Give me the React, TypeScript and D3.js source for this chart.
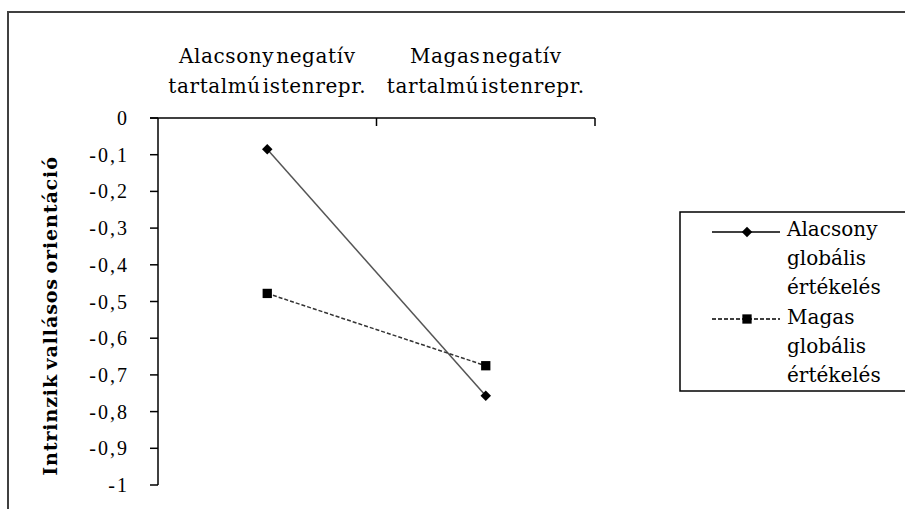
import React from "react";
import * as d3 from "d3";

const categories = ["Alacsony negatív|tartalmú istenrepr.", "Magas negatív|tartalmú istenrepr."];
const seriesNames = ["Alacsony|globális|értékelés", "Magas|globális|értékelés"];
const lowGlobal = [-0.085, -0.757];
const highGlobal = [-0.478, -0.675];
const yTicks = [0, -0.1, -0.2, -0.3, -0.4, -0.5, -0.6, -0.7, -0.8, -0.9, -1];
const yTitle = "Intrinzik vallásos orientáció";

const W = 905;
const H = 509;
const SERIF = "'DejaVu Serif', serif";
const TIMES = "'Liberation Serif', serif";

const huLocale = d3.formatLocale({ decimal: ",", thousands: " ", grouping: [3], currency: ["", " Ft"], minus: "-" });
const fmt = (v: number) => (v === 0 ? "0" : v === -1 ? "-1" : huLocale.format(".1f")(v));

const App = () => {
  const x = d3.scaleBand().domain(categories).range([158, 595]);
  const y = d3.scaleLinear().domain([-1, 0]).range([485, 118]);
  const cx = (c: string) => (x(c) ?? 0) + x.bandwidth() / 2;

  const line = d3
    .line<number>()
    .x((_, i) => cx(categories[i]))
    .y(d => y(d));

  const series = [
    { name: seriesNames[0], values: lowGlobal, dash: "none", stroke: "#555", marker: "diamond" },
    { name: seriesNames[1], values: highGlobal, dash: "4,2", stroke: "#333", marker: "square" },
  ];

  const diamond = d3.symbol().type(d3.symbolDiamond2).size(70)();
  const square = d3.symbol().type(d3.symbolSquare2).size(110)();

  const marker = (kind: string, px: number, py: number, key: string) => (
    <path key={key} d={kind === "diamond" ? diamond! : square!} transform={`translate(${px},${py})`} fill="#000" />
  );

  return (
    <svg width={W} height={H} style={{ position: "absolute", left: 0, top: 0, background: "#fff" }}>
      {/* chart frame */}
      <rect x={8} y={12} width={W + 20} height={H + 20} fill="#fff" stroke="#404040" strokeWidth={2} />

      {/* category labels */}
      {categories.map(c =>
        c.split("|").map((t, i) => (
          <text key={c + i} x={cx(c)} y={63 + i * 30} textAnchor="middle" fontFamily={SERIF} fontSize={20}
            letterSpacing={0.6} wordSpacing={-5} fill="#000">
            {t}
          </text>
        ))
      )}

      {/* y axis */}
      <line x1={158} x2={158} y1={y(0)} y2={y(-1)} stroke="#000" strokeWidth={1.5} />
      {yTicks.map(t => (
        <g key={t}>
          <line x1={150} x2={158} y1={y(t)} y2={y(t)} stroke="#000" strokeWidth={1.5} />
          <text x={129} y={y(t)} dy="0.35em" textAnchor="end" fontFamily={TIMES} fontSize={20}
            letterSpacing={2} fill="#000">
            {fmt(t)}
          </text>
        </g>
      ))}

      {/* category axis at top */}
      <line x1={150} x2={595} y1={y(0)} y2={y(0)} stroke="#000" strokeWidth={1.5} />
      {categories.map(c => (x(c) ?? 0) + x.bandwidth()).map((px, i) => (
        <line key={i} x1={px} x2={px} y1={y(0)} y2={y(0) + 8} stroke="#000" strokeWidth={1.5} />
      ))}

      {/* y title */}
      <text transform={`translate(57,316) rotate(-90)`} textAnchor="middle" fontFamily={SERIF} fontSize={19}
        fontWeight="bold" letterSpacing={0.9} wordSpacing={-3} fill="#000">
        {yTitle}
      </text>

      {/* series */}
      {series.map((s, si) => (
        <g key={si}>
          <path d={line(s.values) ?? ""} fill="none" stroke={s.stroke} strokeWidth={1.5} strokeDasharray={s.dash} />
          {s.values.map((v, i) => marker(s.marker, cx(categories[i]), y(v), `${si}-${i}`))}
        </g>
      ))}

      {/* legend */}
      <rect x={680} y={212} width={240} height={179} fill="#fff" stroke="#000" strokeWidth={1.5} />
      {series.map((s, si) => {
        const ly = 232 + si * 87;
        return (
          <g key={si}>
            <line x1={712} x2={780} y1={ly} y2={ly} stroke="#000" strokeWidth={1.3} strokeDasharray={s.dash} />
            {marker(s.marker, 747, ly, `lg${si}`)}
            {s.name.split("|").map((t, i) => (
              <text key={i} x={787} y={236 + si * 88 + i * 29} fontFamily={SERIF} fontSize={20} fill="#000">
                {t}
              </text>
            ))}
          </g>
        );
      })}
    </svg>
  );
};

export default App;
